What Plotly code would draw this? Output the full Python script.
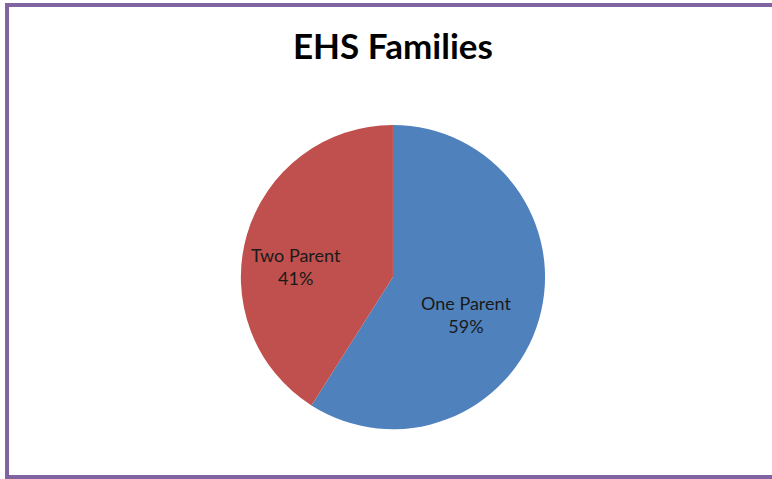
import plotly.graph_objects as go

labels = ["One Parent", "Two Parent"]
values = [59, 41]
colors = ["#4F81BD", "#C0504D"]

# where each slice's label block sits, in paper fractions
label_pos = {"One Parent": (0.6036, 0.3424), "Two Parent": (0.3834, 0.4426)}

fig = go.Figure(go.Pie(
    labels=labels, values=values, sort=False, direction="clockwise", rotation=0,
    marker=dict(colors=colors, line=dict(width=0)),
    textinfo="none",
    domain=dict(x=[0.312, 0.706], y=[0.100, 0.743]),
    hoverinfo="label+percent",
))

total = sum(values)
for lab, val in zip(labels, values):
    x, y = label_pos[lab]
    fig.add_annotation(
        x=x, y=y, xref="paper", yref="paper", showarrow=False,
        text=f"{lab}<br>{round(100 * val / total)}%",
        font=dict(family="Lato", size=18, color="#1a1a1a"),
    )

fig.update_layout(
    width=772, height=479, margin=dict(t=0, b=0, l=0, r=0),
    paper_bgcolor="white", showlegend=False,
    title=dict(text="<b>EHS Families</b>", x=0.509, xanchor="center", y=0.902, yanchor="middle",
               font=dict(family="Lato", size=35, color="black")),
    shapes=[dict(type="rect", xref="paper", yref="paper", x0=0.0091, x1=1.05, y0=0.0042, y1=0.9896,
                 line=dict(color="#8064A2", width=4))],
)
# page body has an 8px default margin; drop it so the figure sits at the window corner
fig.write_html("out.html", config={"displayModeBar": False},
               post_script="document.body.style.margin='0';")
